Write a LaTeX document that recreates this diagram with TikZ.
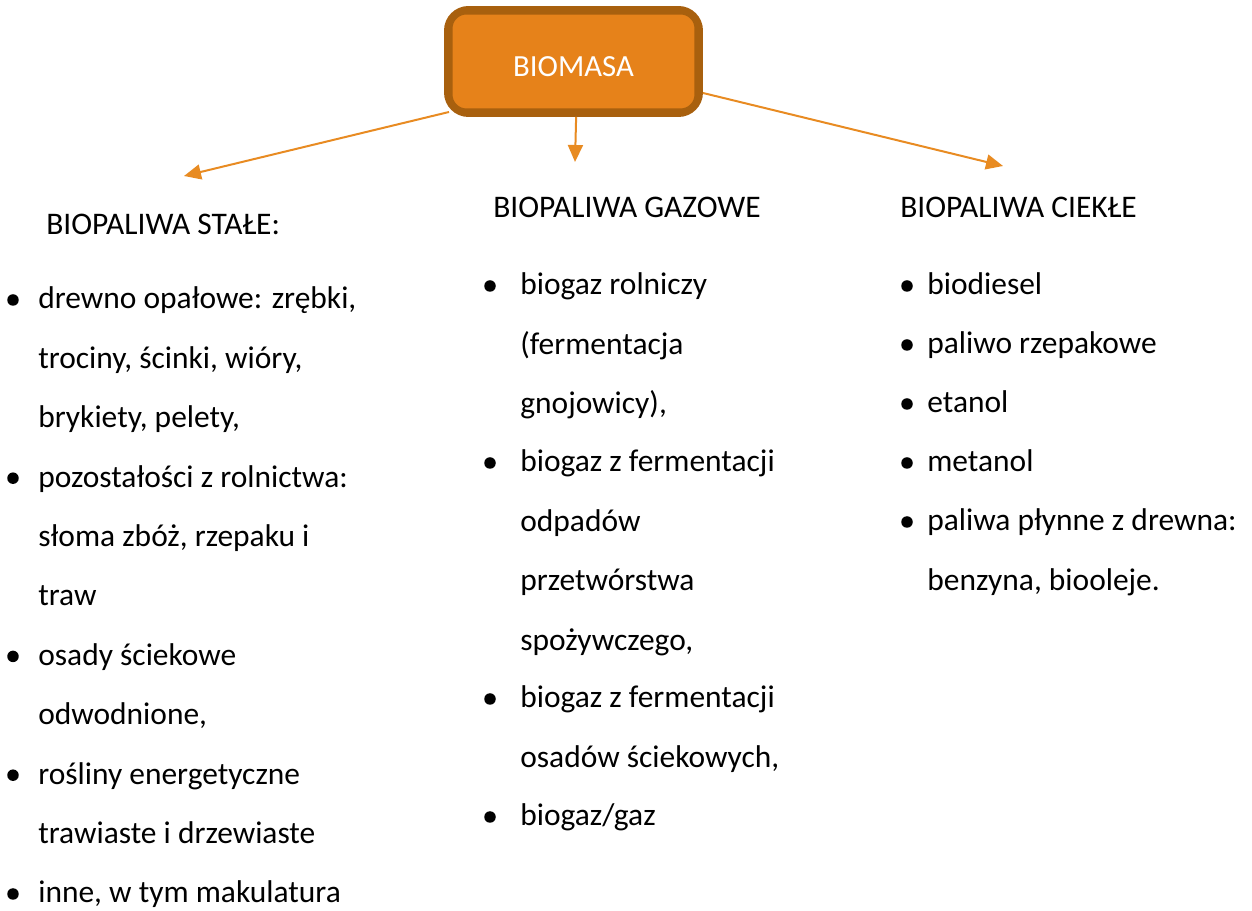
\documentclass[tikz,border=0pt]{standalone}
\usepackage{fontspec}
\setmainfont{Carlito}
\usetikzlibrary{arrows.meta}

\definecolor{pomar}{HTML}{E6821A}
\definecolor{braz}{HTML}{A8600E}
\definecolor{strz}{HTML}{E88B22}

\newcommand{\wiersze}[1]{\begin{tabular}[t]{@{}l@{}}#1\end{tabular}}

\begin{document}
\begin{tikzpicture}[x=0.02cm, y=-0.02cm,
    tekst/.style={anchor=base west, inner sep=0pt, font=\fontsize{17.9}{33.8}\selectfont},
    kropka/.style={circle, fill=black, inner sep=0pt, minimum size=0.23cm},
    strzalka/.style={draw=strz, line width=0.04cm, -{Triangle[length=0.34cm,width=0.3cm]}}]

    \useasboundingbox (0, 0) rectangle (1252, 911);

    \node[fill=pomar, draw=braz, line width=0.14cm, rounded corners=0.42cm,
          minimum width=5.04cm, minimum height=2.08cm, text=white,
          text height=0.62cm, text depth=0cm,
          font=\fontsize{17.5}{17.5}\selectfont] (bio) at (573.5, 61.5) {BIOMASA};
    \draw[braz, line width=0.04cm, rounded corners=0.3cm]
        ([shift={(7.5, 7.5)}]bio.north west) rectangle ([shift={(-7.5, -7.5)}]bio.south east);

    \coordinate (kL) at (184, 176);
    \coordinate (kM) at (575, 162);
    \coordinate (kR) at (1003, 166);

    \draw[strzalka] ([shift={(5, -5)}]bio.south west) -- (kL);
    \draw[strzalka] ([xshift=1.5]bio.south) -- (kM);
    \draw[strzalka] (bio) -- (kR);

    \node[tekst] (stale) at (46, 235) {BIOPALIWA STAŁE:};
    \node[tekst] (gazowe) at (493, 218) {BIOPALIWA GAZOWE};
    \node[tekst] (ciekle) at (900, 218) {BIOPALIWA CIEKŁE};

    \node[tekst] (s1) at (38, 309) {\wiersze{drewno opałowe: zrębki,\\trociny, ścinki, wióry,\\brykiety, pelety,}};
    \node[tekst] (s2) at (38, 487.2) {\wiersze{pozostałości z rolnictwa:\\słoma zbóż, rzepaku i\\traw}};
    \node[tekst] (s3) at (38, 665.4) {\wiersze{osady ściekowe\\odwodnione,}};
    \node[tekst] (s4) at (38, 784.2) {\wiersze{rośliny energetyczne\\trawiaste i drzewiaste}};
    \node[tekst] (s5) at (38, 903) {inne, w tym makulatura};

    \node[tekst] (g1) at (520, 295) {\wiersze{biogaz rolniczy\\(fermentacja\\gnojowicy),}};
    \node[tekst] (g2) at (520, 472) {\wiersze{biogaz z fermentacji\\odpadów\\przetwórstwa\\spożywczego,}};
    \node[tekst] (g3) at (520, 708) {\wiersze{biogaz z fermentacji\\osadów ściekowych,}};
    \node[tekst] (g4) at (520, 826) {biogaz/gaz};

    \node[tekst] (c1) at (927, 295) {biodiesel};
    \node[tekst] (c2) at (927, 354) {paliwo rzepakowe};
    \node[tekst] (c3) at (927, 413) {etanol};
    \node[tekst] (c4) at (927, 472) {metanol};
    \node[tekst] (c5) at (927, 531) {\wiersze{paliwa płynne z drewna:\\benzyna, biooleje.}};

    \foreach \n in {s1, s2, s3, s4, s5}
        \node[kropka] (k\n) at ([shift={(-25, -9)}]\n.base west) {};
    \foreach \n in {g1, g2, g3, g4}
        \node[kropka] (k\n) at ([shift={(-30, -9)}]\n.base west) {};
    \foreach \n in {c1, c2, c3, c4, c5}
        \node[kropka] (k\n) at ([shift={(-20, -9)}]\n.base west) {};

\end{tikzpicture}
\end{document}
